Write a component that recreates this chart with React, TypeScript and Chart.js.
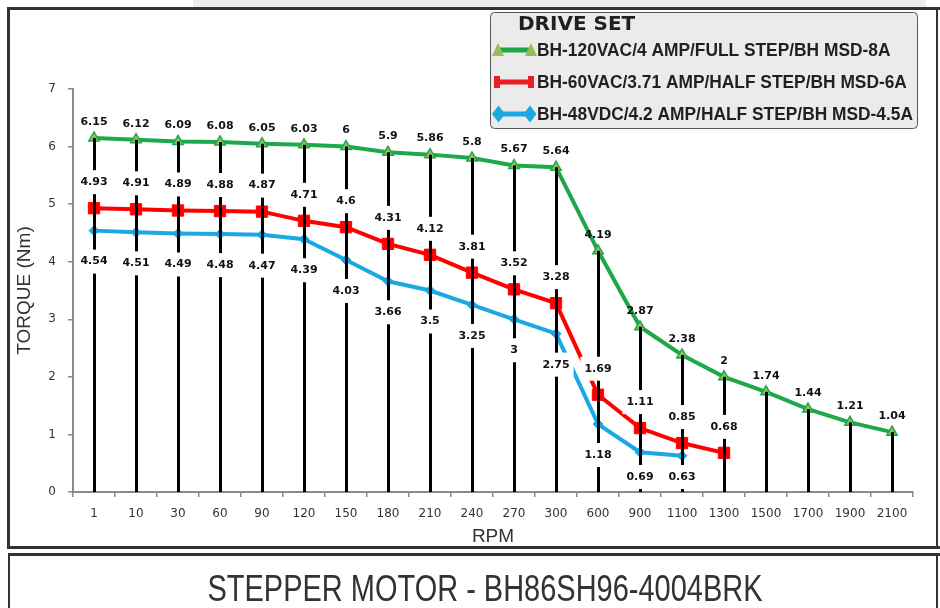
import React, { useEffect, useRef } from 'react';
import { Chart, registerables } from 'chart.js';

Chart.register(...registerables);

// ---- data ----
const rpmLabels = ['1', '10', '30', '60', '90', '120', '150', '180', '210', '240', '270', '300', '600', '900', '1100', '1300', '1500', '1700', '1900', '2100'];
const fullStep120vac = [6.15, 6.12, 6.09, 6.08, 6.05, 6.03, 6, 5.9, 5.86, 5.8, 5.67, 5.64, 4.19, 2.87, 2.38, 2, 1.74, 1.44, 1.21, 1.04];
const halfStep60vac = [4.93, 4.91, 4.89, 4.88, 4.87, 4.71, 4.6, 4.31, 4.12, 3.81, 3.52, 3.28, 1.69, 1.11, 0.85, 0.68, null, null, null, null];
const halfStep48vdc = [4.54, 4.51, 4.49, 4.48, 4.47, 4.39, 4.03, 3.66, 3.5, 3.25, 3, 2.75, 1.18, 0.69, 0.63, null, null, null, null, null];
const seriesNames = [
  'BH-120VAC/4 AMP/FULL STEP/BH MSD-8A',
  'BH-60VAC/3.71 AMP/HALF STEP/BH MSD-6A',
  'BH-48VDC/4.2 AMP/HALF STEP/BH MSD-4.5A',
];
const legendTitle = 'DRIVE SET';
const yTitle = 'TORQUE (Nm)';
const xTitle = 'RPM';
const chartTitle = 'STEPPER MOTOR - BH86SH96-4004BRK';
const yMin = 0;
const yMax = 7;

// ---- styles ----
const GREEN = '#1da94a';
const GREEN_FILL = '#9bbb59';
const RED = '#ff0000';
const BLUE = '#1ba8e3';
const AXIS = '#8a8a8a';
const SANS = '"Liberation Sans", Arial, sans-serif';
const labelOffsets = [-16, -26, 31];
const labelBg = [false, true, true];

function narrowText(ctx: any, text: string, x: number, y: number, targetWidth: number, align: 'left' | 'center') {
  const w = ctx.measureText(text).width;
  const sx = targetWidth / w;
  ctx.save();
  ctx.translate(x, y);
  ctx.scale(sx, 1);
  ctx.textAlign = align;
  ctx.fillText(text, 0, 0);
  ctx.restore();
  return sx;
}

const framePlugin = {
  id: 'frame',
  beforeDraw(chart: any) {
    const ctx = chart.ctx;
    ctx.save();
    ctx.fillStyle = '#ffffff';
    ctx.fillRect(0, 0, chart.width, chart.height);
    ctx.fillStyle = '#ececec';
    ctx.fillRect(193, 0, 733, 7);
    ctx.fillStyle = '#333333';
    // chart frame
    ctx.fillRect(7, 7, 933, 3);
    ctx.fillRect(7, 7, 3, 542);
    ctx.fillRect(7, 546, 933, 3);
    ctx.fillRect(936, 7, 2, 542);
    // title box
    ctx.fillRect(8, 553, 932, 3);
    ctx.fillRect(8, 553, 2, 55);
    ctx.fillRect(936, 553, 2, 55);
    ctx.restore();
  },
  afterDraw(chart: any) {
    const ctx = chart.ctx;
    ctx.save();
    // legend box
    ctx.beginPath();
    ctx.roundRect(490.5, 12.5, 427, 116, 4);
    ctx.fillStyle = '#ebebeb';
    ctx.fill();
    ctx.lineWidth = 1;
    ctx.strokeStyle = '#555555';
    ctx.stroke();
    ctx.fillStyle = '#231f20';
    ctx.font = 'bold 20px "DejaVu Sans", sans-serif';
    ctx.textAlign = 'left';
    ctx.textBaseline = 'alphabetic';
    ctx.fillText(legendTitle, 518, 30);
    const rows = [50, 82, 114];
    // green
    let y = rows[0];
    ctx.fillStyle = GREEN;
    ctx.fillRect(498, y - 2.5, 34, 5);
    ctx.fillStyle = GREEN_FILL;
    for (const cx of [498, 531]) {
      ctx.beginPath();
      ctx.moveTo(cx, y - 7);
      ctx.lineTo(cx + 6, y + 6);
      ctx.lineTo(cx - 6, y + 6);
      ctx.closePath();
      ctx.fill();
    }
    // red
    y = rows[1];
    ctx.fillStyle = '#ed1c24';
    ctx.fillRect(496, y - 2.5, 38, 5);
    ctx.fillRect(494, y - 6, 6, 12);
    ctx.fillRect(528, y - 6, 6, 12);
    // blue
    y = rows[2];
    ctx.fillStyle = BLUE;
    ctx.fillRect(498, y - 2.5, 32, 5);
    for (const cx of [498.5, 530]) {
      ctx.beginPath();
      ctx.moveTo(cx, y - 8.5);
      ctx.lineTo(cx + 6.5, y);
      ctx.lineTo(cx, y + 8.5);
      ctx.lineTo(cx - 6.5, y);
      ctx.closePath();
      ctx.fill();
    }
    ctx.fillStyle = '#231f20';
    ctx.font = 'bold 19px ' + SANS;
    ctx.textBaseline = 'middle';
    const refW = ctx.measureText(seriesNames[2]).width;
    const sx = 376 / refW;
    seriesNames.forEach((name, i) => {
      const w = ctx.measureText(name).width * sx;
      narrowText(ctx, name, 537, rows[i] + 1, w, 'left');
    });
    // bottom title
    ctx.fillStyle = '#333333';
    ctx.font = '36px ' + SANS;
    ctx.textBaseline = 'alphabetic';
    narrowText(ctx, chartTitle, 485, 601, 555, 'center');
    ctx.restore();
  },
};

const dropLinePlugin = {
  id: 'dropLines',
  afterDatasetsDraw(chart: any) {
    const ctx = chart.ctx;
    const xs = chart.scales.x;
    const ys = chart.scales.y;
    const datasets = chart.data.datasets;
    ctx.save();
    ctx.strokeStyle = '#000000';
    ctx.lineWidth = 3;
    rpmLabels.forEach((_, i) => {
      let top: number | null = null;
      datasets.forEach((ds: any) => {
        const v = ds.data[i];
        if (v !== null && v !== undefined && (top === null || v > top)) top = v;
      });
      if (top === null) return;
      const x = Math.round(xs.getPixelForValue(i)) + 0.5;
      ctx.beginPath();
      ctx.moveTo(x, ys.getPixelForValue(top));
      ctx.lineTo(x, ys.getPixelForValue(0));
      ctx.stroke();
    });
    // data labels
    ctx.font = 'bold 11px "DejaVu Sans", sans-serif';
    ctx.textAlign = 'center';
    ctx.textBaseline = 'middle';
    const axisY = ys.getPixelForValue(0);
    datasets.forEach((ds: any, di: number) => {
      const meta = chart.getDatasetMeta(di);
      ds.data.forEach((v: any, i: number) => {
        if (v === null || v === undefined) return;
        const pt = meta.data[i];
        const text = String(v);
        let ly = pt.y + labelOffsets[di];
        if (ly > axisY - 15) ly = axisY - 15;
        if (labelBg[di]) {
          const w = ctx.measureText(text).width + 8;
          ctx.fillStyle = '#ffffff';
          ctx.fillRect(pt.x - w / 2, ly - 12, w, 24);
        }
        ctx.fillStyle = '#111111';
        ctx.fillText(text, pt.x, ly);
      });
    });
    ctx.restore();
  },
};

export default function App() {
  const ref = useRef<HTMLCanvasElement>(null);
  useEffect(() => {
    if (!ref.current) return;
    const chart = new Chart(ref.current, {
      type: 'line',
      data: {
        labels: rpmLabels,
        datasets: [
          {
            label: seriesNames[0],
            data: fullStep120vac,
            borderColor: GREEN,
            borderWidth: 4,
            pointStyle: 'triangle',
            pointRadius: 6,
            pointBackgroundColor: GREEN_FILL,
            pointBorderColor: GREEN,
            pointBorderWidth: 1.5,
            tension: 0,
          },
          {
            label: seriesNames[1],
            data: halfStep60vac,
            borderColor: RED,
            borderWidth: 4,
            pointStyle: 'rect',
            pointRadius: 8,
            pointBackgroundColor: RED,
            pointBorderColor: RED,
            pointBorderWidth: 1,
            tension: 0,
          },
          {
            label: seriesNames[2],
            data: halfStep48vdc,
            borderColor: BLUE,
            borderWidth: 4,
            pointStyle: 'rectRot',
            pointRadius: 5,
            pointBackgroundColor: BLUE,
            pointBorderColor: BLUE,
            pointBorderWidth: 1,
            tension: 0,
          },
        ],
      },
      options: {
        responsive: false,
        animation: false,
        devicePixelRatio: 1,
        layout: { padding: { left: 8, top: 89, right: 27, bottom: 60 } },
        plugins: { legend: { display: false }, tooltip: { enabled: false }, title: { display: false } },
        scales: {
          x: {
            type: 'category',
            offset: true,
            grid: { display: true, offset: true, drawOnChartArea: false, drawTicks: true, tickLength: 5, color: AXIS, lineWidth: 1.5 },
            border: { display: true, color: AXIS, width: 2 },
            ticks: { autoSkip: false, maxRotation: 0, minRotation: 0, padding: 10, color: '#333333', font: { family: '"DejaVu Sans", sans-serif', size: 12 } },
            title: { display: true, text: xTitle, color: '#333333', padding: { top: 0, bottom: 0 }, font: { family: SANS, size: 19 } },
            afterFit(scale: any) { scale.height = 56; },
          },
          y: {
            min: yMin,
            max: yMax,
            grid: { display: true, drawOnChartArea: false, drawTicks: true, tickLength: 5, color: AXIS, lineWidth: 1.5 },
            border: { display: true, color: AXIS, width: 2 },
            ticks: { stepSize: 1, padding: 12, color: '#333333', font: { family: '"DejaVu Sans", sans-serif', size: 12 } },
            title: { display: true, text: yTitle, color: '#333333', padding: { top: 5, bottom: 0 }, font: { family: SANS, size: 19 } },
            afterFit(scale: any) { scale.width = 65; },
          },
        },
      },
      plugins: [framePlugin, dropLinePlugin],
    } as any);
    return () => chart.destroy();
  }, []);
  return (
    <div style={{ position: 'fixed', left: 0, top: 0, width: 940, height: 608, background: '#fff' }}>
      <canvas ref={ref} width={940} height={608} style={{ display: 'block', width: 940, height: 608 }} />
    </div>
  );
}
